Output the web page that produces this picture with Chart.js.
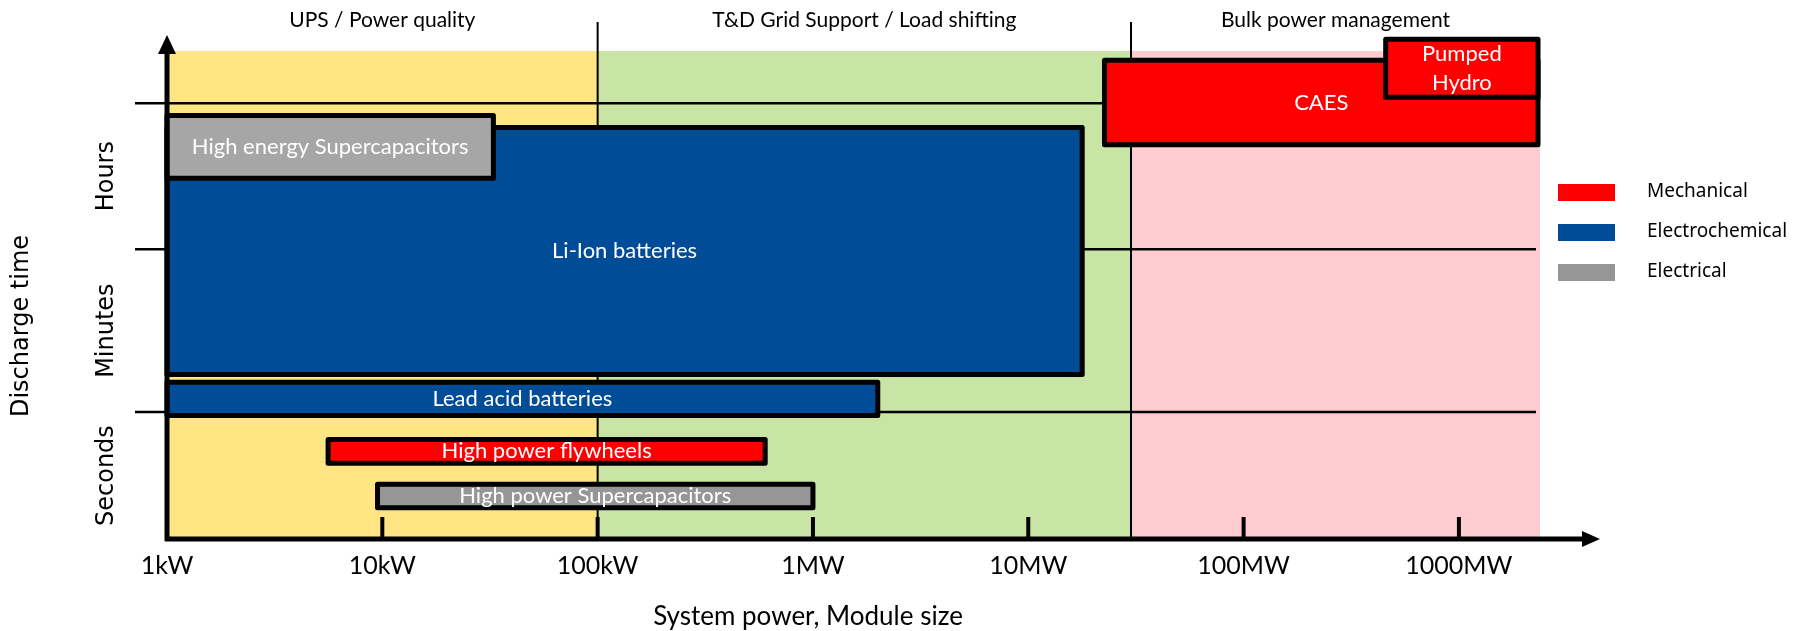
<!DOCTYPE html>
<html lang="en">
<head>
    <meta charset="UTF-8">
    <title>Energy storage technologies</title>
    <script src="https://cdn.jsdelivr.net/npm/chart.js"></script>
    <style>
        body { margin: 0; background: #fff; }
        #chart { display: block; }
    </style>
</head>
<body>
    <canvas id="chart" width="1810" height="631"></canvas>

    <script>
        // x axis: system power in kW (log scale)
        const tickValuesKW = [1, 10, 100, 1000, 10000, 100000, 1000000];
        const tickLabels = ['1kW', '10kW', '100kW', '1MW', '10MW', '100MW', '1000MW'];
        const axisMaxKW = 2380000;

        // application regions along the power axis
        const regionNames = ['UPS / Power quality', 'T&D Grid Support / Load shifting', 'Bulk power management'];
        const regionFromKW = [1, 100, 30000];
        const regionToKW = [100, 30000, 2380000];

        // discharge time bands (relative scale 0..100, bottom to top)
        const timeBands = ['Seconds', 'Minutes', 'Hours'];
        const timeBandEdges = [0, 26, 59.4, 89.3];

        // technologies
        const techLabels = ['Li-Ion batteries', 'High energy Supercapacitors', 'Lead acid batteries',
            'High power flywheels', 'High power Supercapacitors', 'CAES', ['Pumped', 'Hydro']];
        const techClass = ['Electrochemical', 'Electrical', 'Electrochemical',
            'Mechanical', 'Electrical', 'Mechanical', 'Mechanical'];
        const powerFromKW = [1, 1, 1, 5.6, 9.5, 22600, 457000];
        const powerToKW = [17800, 32.8, 2000, 600, 1000, 2330000, 2330000];
        const timeFrom = [33.7, 73.9, 25.3, 15.5, 6.4, 80.8, 90.5];
        const timeTo = [84.3, 86.8, 32.1, 20.4, 11.2, 98.1, 102.4];

        const classNames = ['Mechanical', 'Electrochemical', 'Electrical'];

        const classColors = { Mechanical: '#ff0000', Electrochemical: '#004c97', Electrical: '#969696' };
        const techFill = ['#004c97', '#a6a6a6', '#004c97', '#ff0000', '#969696', '#ff0000', '#ff0000'];
        const regionColors = ['#ffe583', '#c9e5a6', '#ffccd0'];

        function text(ctx, str, x, y, font, color, rot) {
            ctx.save();
            ctx.translate(x, y);
            if (rot) ctx.rotate(rot);
            ctx.font = font;
            ctx.fillStyle = color;
            ctx.textAlign = 'center';
            ctx.textBaseline = 'middle';
            ctx.fillText(str, 0, 0);
            ctx.restore();
        }

        function line(ctx, x1, y1, x2, y2, w) {
            ctx.beginPath();
            ctx.moveTo(x1, y1);
            ctx.lineTo(x2, y2);
            ctx.lineWidth = w;
            ctx.strokeStyle = '#000';
            ctx.stroke();
        }

        const storagePlugin = {
            id: 'storageMap',
            beforeDatasetsDraw(chart) {
                const ctx = chart.ctx;
                const xs = chart.scales.x, ys = chart.scales.y;
                const area = chart.chartArea;
                ctx.save();

                // region backgrounds
                regionNames.forEach((r, i) => {
                    const x0 = xs.getPixelForValue(regionFromKW[i]);
                    const x1 = xs.getPixelForValue(regionToKW[i]);
                    ctx.fillStyle = regionColors[i];
                    ctx.fillRect(x0, area.top, x1 - x0, area.bottom - area.top);
                });

                // band boundary lines
                for (let i = 1; i < timeBandEdges.length; i++) {
                    const y = ys.getPixelForValue(timeBandEdges[i]);
                    line(ctx, area.left - 32, y, area.right - 4, y, 2.5);
                }

                // region dividers
                for (let i = 1; i < regionFromKW.length; i++) {
                    const x = xs.getPixelForValue(regionFromKW[i]);
                    line(ctx, x, 22, x, area.bottom, 2);
                }

                // technology boxes
                ctx.lineJoin = 'round';
                techLabels.forEach((lab, i) => {
                    const x0 = xs.getPixelForValue(powerFromKW[i]);
                    const x1 = xs.getPixelForValue(powerToKW[i]);
                    const y0 = ys.getPixelForValue(timeTo[i]);
                    const y1 = ys.getPixelForValue(timeFrom[i]);
                    ctx.fillStyle = techFill[i];
                    ctx.fillRect(x0, y0, x1 - x0, y1 - y0);
                    ctx.lineWidth = 5;
                    ctx.strokeStyle = '#000';
                    ctx.strokeRect(x0, y0, x1 - x0, y1 - y0);
                    const cx = (x0 + x1) / 2, cy = (y0 + y1) / 2;
                    const lines = Array.isArray(lab) ? lab : [lab];
                    lines.forEach((t, k) => {
                        text(ctx, t, cx, cy + (k - (lines.length - 1) / 2) * 29, '22px Lato', '#fff');
                    });
                });
                ctx.restore();
            },
            afterDraw(chart) {
                const ctx = chart.ctx;
                const xs = chart.scales.x, ys = chart.scales.y;
                const area = chart.chartArea;
                ctx.save();

                // axes with arrows
                line(ctx, area.left, area.bottom + 2, area.left, 50, 5);
                line(ctx, area.left - 2, area.bottom, 1585, area.bottom, 5);
                ctx.fillStyle = '#000';
                ctx.beginPath();
                ctx.moveTo(area.left, 35);
                ctx.lineTo(area.left - 9, 54);
                ctx.lineTo(area.left + 9, 54);
                ctx.closePath();
                ctx.fill();
                ctx.beginPath();
                ctx.moveTo(1600, area.bottom);
                ctx.lineTo(1582, area.bottom - 8);
                ctx.lineTo(1582, area.bottom + 8);
                ctx.closePath();
                ctx.fill();

                // ticks and tick labels
                tickValuesKW.forEach((v, i) => {
                    const x = xs.getPixelForValue(v);
                    if (i > 0) line(ctx, x, area.bottom - 22, x, area.bottom, 4);
                    text(ctx, tickLabels[i], x, 566, '25px Lato', '#000');
                });
                text(ctx, 'System power, Module size', 808, 617, '26px Lato', '#000');

                // region titles
                regionNames.forEach((r, i) => {
                    const x0 = xs.getPixelForValue(regionFromKW[i]);
                    const x1 = xs.getPixelForValue(regionToKW[i]);
                    text(ctx, r, (x0 + x1) / 2, 20, '21px Lato', '#000');
                });

                // y band labels and title
                timeBands.forEach((b, i) => {
                    const y = ys.getPixelForValue((timeBandEdges[i] + timeBandEdges[i + 1]) / 2);
                    text(ctx, b, 107, y, '24px "DejaVu Sans"', '#000', -Math.PI / 2);
                });
                text(ctx, 'Discharge time', 22, 326, '24px "DejaVu Sans"', '#000', -Math.PI / 2);

                // legend
                classNames.forEach((c, i) => {
                    const y = 192 + i * 40;
                    ctx.fillStyle = classColors[c];
                    ctx.fillRect(1558, y - 8, 57, 17);
                    ctx.font = '19px "Noto Sans"';
                    ctx.fillStyle = '#000';
                    ctx.textAlign = 'left';
                    ctx.textBaseline = 'middle';
                    ctx.fillText(c, 1647, y);
                });
                ctx.restore();
            }
        };

        new Chart(document.getElementById('chart'), {
            type: 'scatter',
            data: { datasets: [] },
            options: {
                responsive: false,
                animation: false,
                devicePixelRatio: 1,
                layout: { padding: { left: 167, right: 270, top: 51, bottom: 92 } },
                plugins: { legend: { display: false }, tooltip: { enabled: false } },
                scales: {
                    x: { type: 'logarithmic', min: 1, max: axisMaxKW, display: false },
                    y: { type: 'linear', min: 0, max: 100, display: false }
                }
            },
            plugins: [storagePlugin]
        });
    </script>
</body>
</html>
